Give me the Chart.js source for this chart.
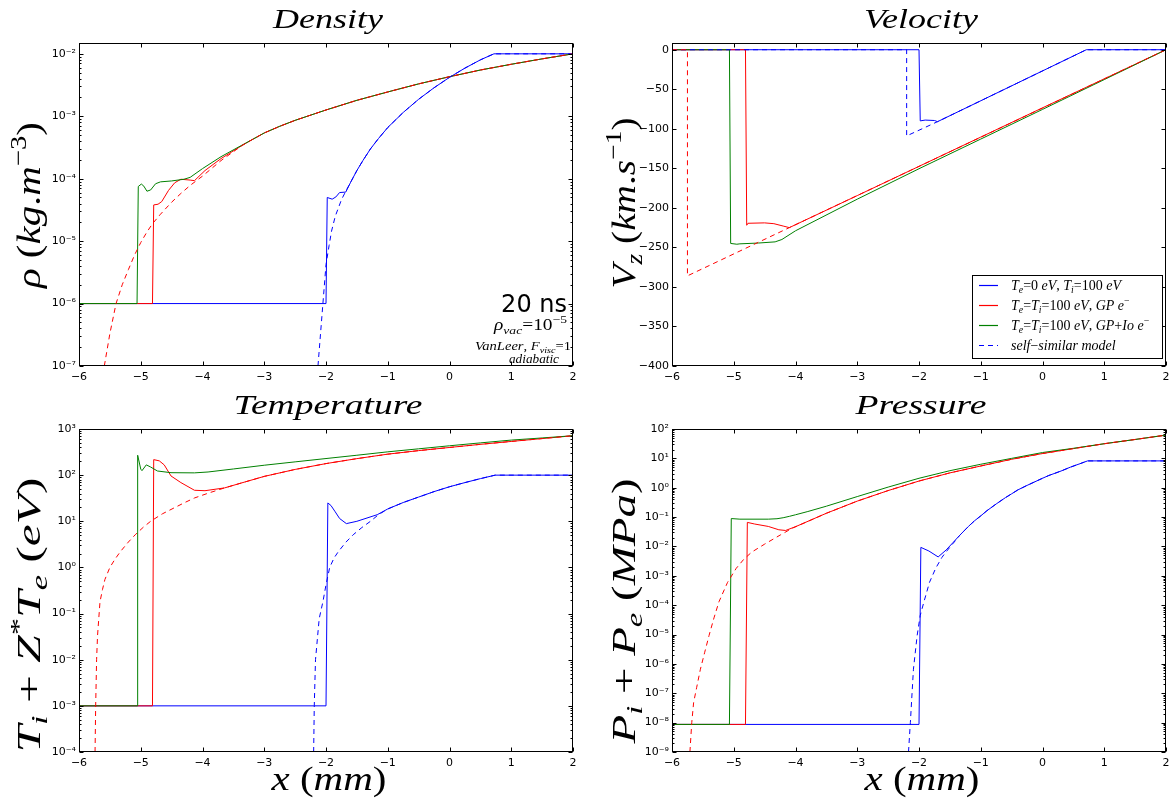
<!DOCTYPE html>
<html>
<head>
<meta charset="utf-8">
<script src="https://cdn.jsdelivr.net/npm/chart.js@4.4.1/dist/chart.umd.min.js"></script>
<style>
  body { margin: 0; background: #fff; }
  #wrap { position: relative; width: 1175px; height: 805px; }
  #wrap canvas { position: absolute; left: 0; top: 0; }
</style>
</head>
<body>
<div id="wrap">
  <canvas id="density" width="1175" height="805"></canvas>
  <canvas id="velocity" width="1175" height="805"></canvas>
  <canvas id="temperature" width="1175" height="805"></canvas>
  <canvas id="pressure" width="1175" height="805"></canvas>
</div>
<script>
// x positions in mm
const xTicks = [-6, -5, -4, -3, -2, -1, 0, 1, 2];
const velocityTicks = [0, -50, -100, -150, -200, -250, -300, -350, -400];

const seriesLabels = [
  'T_{e}=0 eV, T_{i}=100 eV',
  'T_{e}=T_{i}=100 eV, GP e^{−}',
  'T_{e}=T_{i}=100 eV, GP+Io e^{−}',
  'self−similar model'
];

// density (kg/m3)
const densityBlue = [[-6, 1e-6], [-2.0, 1e-6], [-1.98, 5e-5], [-1.9, 4.7e-5], [-1.84, 5.1e-5], [-1.78, 6e-5], [-1.68, 6.1e-5],
  [-1.6, 8.8e-5], [-1.5, 1.35e-4], [-1.4, 1.97e-4], [-1.28, 3.0e-4], [-1.15, 4.4e-4], [-1.0, 6.6e-4], [-0.75, 1.15e-3],
  [-0.5, 1.87e-3], [-0.25, 2.86e-3], [0, 4.2e-3], [0.25, 5.9e-3], [0.5, 8.0e-3], [0.72, 1.0e-2], [2, 1.0e-2]];
const densityBlueModel = [[-2.13, 1e-7], [-2.05, 1e-6], [-2.0, 4.2e-6], [-1.95, 8.5e-6], [-1.91, 1.45e-5], [-1.85, 2.5e-5],
  [-1.75, 4.6e-5], [-1.68, 6.3e-5], [-1.6, 8.8e-5], [-1.5, 1.35e-4], [-1.4, 1.97e-4], [-1.28, 3.0e-4], [-1.15, 4.4e-4],
  [-1.0, 6.6e-4], [-0.75, 1.15e-3], [-0.5, 1.87e-3], [-0.25, 2.86e-3], [0, 4.2e-3], [0.25, 5.9e-3], [0.5, 8.0e-3],
  [0.72, 1.0e-2], [2, 1.0e-2]];
const densityRed = [[-6, 1e-6], [-4.81, 1e-6], [-4.79, 3.8e-5], [-4.72, 3.9e-5], [-4.66, 4.3e-5], [-4.55, 6.5e-5], [-4.45, 8.6e-5],
  [-4.35, 9.8e-5], [-4.2, 9.5e-5], [-4.13, 9.3e-5], [-3.96, 1.35e-4], [-3.7, 2.1e-4], [-3.36, 3.4e-4], [-3.2, 4.2e-4],
  [-3, 5.4e-4], [-2.75, 6.9e-4], [-2.5, 8.6e-4], [-2, 1.26e-3], [-1.5, 1.8e-3], [-1, 2.45e-3], [-0.5, 3.3e-3], [0, 4.3e-3],
  [0.5, 5.5e-3], [1, 6.8e-3], [1.5, 8.3e-3], [2, 1.0e-2]];
const densityRedModel = [[-5.59, 1e-7], [-5.5, 3.3e-7], [-5.4, 1e-6], [-5.3, 2.0e-6], [-5.2, 3.5e-6], [-5.1, 6e-6],
  [-5.0, 9.5e-6], [-4.9, 1.4e-5], [-4.81, 1.9e-5], [-4.68, 2.7e-5], [-4.5, 4.2e-5], [-4.35, 5.8e-5], [-4.2, 7.8e-5],
  [-4.0, 1.1e-4], [-3.7, 1.95e-4], [-3.36, 3.4e-4], [-3.2, 4.2e-4], [-3, 5.4e-4], [-2.75, 6.9e-4], [-2.5, 8.6e-4],
  [-2, 1.26e-3], [-1.5, 1.8e-3], [-1, 2.45e-3], [-0.5, 3.3e-3], [0, 4.3e-3], [0.5, 5.5e-3], [1, 6.8e-3], [1.5, 8.3e-3],
  [2, 1.0e-2]];
const densityGreen = [[-6, 1e-6], [-5.06, 1e-6], [-5.04, 7.5e-5], [-4.99, 8.2e-5], [-4.95, 7.6e-5], [-4.9, 6.3e-5], [-4.84, 6.6e-5],
  [-4.76, 8.3e-5], [-4.68, 8.9e-5], [-4.5, 9.2e-5], [-4.3, 9.8e-5], [-4.2, 1.05e-4], [-4.0, 1.45e-4], [-3.7, 2.25e-4],
  [-3.36, 3.45e-4], [-3.2, 4.2e-4], [-3, 5.4e-4], [-2.75, 6.9e-4], [-2.5, 8.6e-4], [-2, 1.26e-3], [-1.5, 1.8e-3],
  [-1, 2.45e-3], [-0.5, 3.3e-3], [0, 4.3e-3], [0.5, 5.5e-3], [1, 6.8e-3], [1.5, 8.3e-3], [2, 1.0e-2]];

// velocity (km/s)
const velocityBlue = [[-6, 0], [-2.0, 0], [-1.98, -90], [-1.9, -89], [-1.75, -89.5], [-1.7, -91], [0.71, 0], [2, 0]];
const velocityBlueModel = [[-6, 0], [-2.2, 0], [-2.2, -109], [-1.7, -91], [0.71, 0], [2, 0]];
const velocityRed = [[-6, 0], [-4.81, 0], [-4.79, -222], [-4.77, -219.5], [-4.5, -219], [-4.35, -220], [-4.2, -223],
  [-4.1, -225], [-3, -184.5], [-2, -147.5], [-1, -110.5], [0, -73.5], [1, -36.8], [2, 0]];
const velocityRedModel = [[-6, 0], [-5.75, 0], [-5.75, -286], [-4.1, -225], [2, 0]];
const velocityGreen = [[-6, 0], [-5.07, 0], [-5.05, -245], [-4.95, -246], [-4.9, -245.5], [-4.6, -244.5], [-4.33, -243],
  [-4.22, -240], [-4.0, -229], [-3, -189], [-2, -150.5], [-1, -113], [0, -75.5], [1, -37.8], [2, 0]];

// temperature (eV)
const tempBlue = [[-6, 1e-3], [-2.0, 1e-3], [-1.97, 25], [-1.92, 22], [-1.85, 16], [-1.78, 11.5], [-1.67, 8.9], [-1.5, 10],
  [-1.17, 13.9], [-1, 18.5], [-0.75, 25.5], [-0.5, 33.5], [-0.25, 44], [0, 56], [0.25, 69], [0.5, 84], [0.74, 100], [2, 100]];
const tempBlueModel = [[-2.2, 1e-4], [-2.19, 1e-3], [-2.17, 0.01], [-2.11, 0.078], [-2.05, 0.18], [-2.0, 0.42], [-1.94, 1],
  [-1.87, 1.6], [-1.8, 2.2], [-1.68, 3.5], [-1.56, 5.1], [-1.42, 7.3], [-1.28, 10], [-1.15, 13.9], [-1, 18.5],
  [-0.75, 25.5], [-0.5, 33.5], [-0.25, 44], [0, 56], [0.25, 69], [0.5, 84], [0.74, 100], [2, 100]];
const tempRed = [[-6, 1e-3], [-4.81, 1e-3], [-4.79, 217], [-4.7, 204], [-4.62, 167], [-4.51, 96], [-4.35, 69], [-4.13, 47],
  [-3.96, 46], [-3.64, 53], [-3.3, 72], [-3, 94], [-2.5, 133], [-2, 178], [-1.5, 228], [-1, 285], [-0.5, 340], [0, 398],
  [0.5, 465], [1, 538], [1.5, 620], [2, 715]];
const tempRedModel = [[-5.74, 1e-4], [-5.73, 1e-3], [-5.715, 0.01], [-5.7, 0.033], [-5.66, 0.18], [-5.62, 0.33],
  [-5.58, 0.55], [-5.5, 1], [-5.42, 1.49], [-5.33, 2.2], [-5.2, 3.55], [-5.09, 5.1], [-4.96, 7.4], [-4.84, 10],
  [-4.65, 14.5], [-4.46, 19.5], [-4.3, 25], [-4.13, 32], [-3.9, 41], [-3.64, 53], [-3.3, 72], [-3, 94], [-2.5, 133],
  [-2, 178], [-1.5, 228], [-1, 285], [-0.5, 340], [0, 398], [0.5, 465], [1, 538], [1.5, 620], [2, 715]];
const tempGreen = [[-6, 1e-3], [-5.06, 1e-3], [-5.05, 270], [-5.0, 135], [-4.98, 125], [-4.91, 167], [-4.84, 150],
  [-4.73, 123], [-4.51, 113], [-4.13, 112], [-3.91, 117], [-3.5, 136], [-3, 164], [-2.5, 194], [-2, 229], [-1.5, 270],
  [-1, 320], [-0.5, 372], [0, 433], [0.5, 500], [1, 575], [1.5, 640], [2, 715]];

// pressure (MPa)
const pressBlue = [[-6, 8.7e-9], [-2.0, 8.7e-9], [-1.97, 9.3e-3], [-1.84, 7e-3], [-1.69, 4.4e-3], [-1.56, 7.6e-3],
  [-1.45, 0.0135], [-1.34, 0.024], [-1.2, 0.048], [-1.1, 0.075], [-1, 0.11], [-0.9, 0.165], [-0.75, 0.28], [-0.6, 0.46],
  [-0.5, 0.62], [-0.4, 0.84], [-0.25, 1.2], [0, 2.1], [0.1, 2.6], [0.2, 3.1], [0.3, 3.7], [0.45, 5.0], [0.6, 6.5],
  [0.73, 8.2], [2, 8.2]];
const pressBlueModel = [[-2.17, 1e-9], [-2.14, 1e-8], [-2.09, 6.6e-7], [-2.03, 9.3e-6], [-1.98, 4.5e-5], [-1.92, 1.3e-4],
  [-1.83, 6e-4], [-1.73, 1.8e-3], [-1.63, 4.2e-3], [-1.56, 6.6e-3], [-1.45, 0.0125], [-1.34, 0.024], [-1.2, 0.048],
  [-1.1, 0.075], [-1, 0.11], [-0.9, 0.165], [-0.75, 0.28], [-0.6, 0.46], [-0.5, 0.62], [-0.4, 0.84], [-0.25, 1.2],
  [0, 2.1], [0.1, 2.6], [0.2, 3.1], [0.3, 3.7], [0.45, 5.0], [0.6, 6.5], [0.73, 8.2], [2, 8.2]];
const pressRed = [[-6, 8.7e-9], [-4.81, 8.7e-9], [-4.78, 0.066], [-4.66, 0.058], [-4.44, 0.048], [-4.27, 0.037],
  [-4.16, 0.035], [-3.99, 0.048], [-3.5, 0.135], [-3, 0.35], [-2.5, 0.8], [-2, 1.69], [-1.5, 3.2], [-1, 5.5],
  [-0.5, 9.3], [0, 14.6], [0.5, 21.5], [1, 31.5], [1.5, 44], [2, 62]];
const pressRedModel = [[-5.71, 1e-9], [-5.68, 1e-8], [-5.65, 4.8e-8], [-5.6, 1.6e-7], [-5.54, 6.6e-7], [-5.47, 2.5e-6],
  [-5.4, 9.3e-6], [-5.32, 3.7e-5], [-5.24, 1.3e-4], [-5.1, 6e-4], [-4.96, 1.8e-3], [-4.84, 3.6e-3], [-4.71, 6.4e-3],
  [-4.5, 1.2e-2], [-4.24, 0.025], [-4.05, 0.042], [-3.5, 0.135], [-3, 0.35], [-2.5, 0.8], [-2, 1.69], [-1.5, 3.2],
  [-1, 5.5], [-0.5, 9.3], [0, 14.6], [0.5, 21.5], [1, 31.5], [1.5, 44], [2, 62]];
const pressGreen = [[-6, 8.7e-9], [-5.07, 8.7e-9], [-5.04, 0.089], [-4.9, 0.085], [-4.44, 0.085], [-4.3, 0.088],
  [-4.2, 0.095], [-4.1, 0.106], [-4.0, 0.12], [-3.8, 0.155], [-3.5, 0.235], [-3, 0.5], [-2.5, 1.05], [-2, 2.1],
  [-1.5, 3.8], [-1, 6.3], [-0.5, 10], [0, 15.8], [0.5, 22], [1, 31.5], [1.5, 44], [2, 62]];

const BLUE = '#0000ff', RED = '#ff0000', GREEN = '#008000';
const SERIF = '"Liberation Serif", serif';

const SUP = { '-': '⁻', '0': '⁰', '1': '¹', '2': '²', '3': '³', '4': '⁴', '5': '⁵', '6': '⁶', '7': '⁷', '8': '⁸', '9': '⁹' };
function powLabel(v) {
  const e = Math.round(Math.log10(v));
  return '10' + String(e).split('').map(c => SUP[c]).join('');
}
function decades(lo, hi) {
  const t = [];
  for (let e = lo; e <= hi; e++) t.push(Math.pow(10, e));
  return t;
}

// text with _{sub} and ^{sup}, letters italic like mathtext
function runs(str) {
  const out = [];
  const push = (t, lvl) => {
    (t.match(/[A-Za-zρ]+|[^A-Za-zρ]+/g) || []).forEach(seg => out.push({ t: seg, it: /[A-Za-zρ]/.test(seg), lvl }));
  };
  let buf = '', i = 0;
  while (i < str.length) {
    const c = str[i];
    if ((c === '_' || c === '^') && str[i + 1] === '{') {
      push(buf, 0); buf = '';
      const e = str.indexOf('}', i);
      push(str.slice(i + 2, e), c === '_' ? -1 : 1);
      i = e + 1;
    } else { buf += c; i++; }
  }
  push(buf, 0);
  return out;
}
// span: stretch horizontally to the width measured on the figure (Computer Modern is wider)
function drawRich(ctx, str, x, y, size, align, rot, span) {
  const rs = runs(str);
  const fontOf = r => (r.it ? 'italic ' : '') + (r.lvl ? size * 0.7 : size) + 'px ' + SERIF;
  let w = 0;
  rs.forEach(r => { ctx.font = fontOf(r); r.w = ctx.measureText(r.t).width; w += r.w; });
  const k = span ? span / w : 1;
  ctx.save();
  ctx.translate(x, y);
  if (rot) ctx.rotate(-Math.PI / 2);
  ctx.scale(k, 1);
  let cx = align === 'center' ? -w / 2 : align === 'right' ? -w : 0;
  ctx.textAlign = 'left';
  ctx.textBaseline = 'alphabetic';
  ctx.fillStyle = '#000';
  rs.forEach(r => {
    ctx.font = fontOf(r);
    ctx.fillText(r.t, cx, r.lvl === -1 ? size * 0.22 : r.lvl === 1 ? -size * 0.42 : 0);
    cx += r.w;
  });
  ctx.restore();
}

const decorPlugin = {
  id: 'decor',
  afterDatasetsDraw(chart, args, o) {
    const ctx = chart.ctx, a = chart.chartArea, xs = chart.scales.x, ys = chart.scales.y;
    const L = Math.round(a.left) + 0.5, R = Math.round(a.right) - 0.5;
    const T = Math.round(a.top) + 0.5, B = Math.round(a.bottom) - 0.5;
    ctx.save();
    ctx.strokeStyle = '#000';
    ctx.lineWidth = 1;
    ctx.beginPath();
    xTicks.forEach(v => {
      const p = Math.round(xs.getPixelForValue(v)) + 0.5;
      ctx.moveTo(p, B); ctx.lineTo(p, B - 4);
      ctx.moveTo(p, T); ctx.lineTo(p, T + 4);
    });
    const marks = [];
    if (ys.type === 'logarithmic') {
      const lo = Math.floor(Math.log10(ys.min)), hi = Math.ceil(Math.log10(ys.max));
      for (let e = lo; e <= hi; e++) {
        for (let m = 1; m <= 9; m++) {
          const v = m * Math.pow(10, e);
          if (v >= ys.min * 0.999 && v <= ys.max * 1.001) marks.push([v, m === 1 ? 4 : 2]);
        }
      }
    } else {
      velocityTicks.forEach(v => marks.push([v, 4]));
    }
    marks.forEach(([v, len]) => {
      const p = Math.round(ys.getPixelForValue(v)) + 0.5;
      ctx.moveTo(L, p); ctx.lineTo(L + len, p);
      ctx.moveTo(R, p); ctx.lineTo(R - len, p);
    });
    ctx.stroke();
    ctx.strokeRect(L, T, R - L, B - T);
    ctx.restore();
  },
  afterDraw(chart, args, o) {
    const ctx = chart.ctx, a = chart.chartArea;
    const mid = (a.left + a.right) / 2;
    drawRich(ctx, o.title, mid + 2, a.top - 15, 28, 'center', false, o.titleSpan);
    drawRich(ctx, o.ylabel, o.ylabelX, o.ylabelY, 34, 'center', true, o.ylabelSpan);
    if (o.xlabel) drawRich(ctx, o.xlabel, mid + 3, 790, 34, 'center', false, 115);
    if (o.notes) {
      ctx.save();
      ctx.fillStyle = '#000';
      ctx.font = '24px "DejaVu Sans"';
      ctx.textAlign = 'right';
      ctx.fillText('20 ns', a.right - 6, 312);
      ctx.restore();
      drawRich(ctx, 'ρ_{vac}=10^{−5}', a.right - 6, 330, 16, 'right', false, 73);
      drawRich(ctx, 'VanLeer, F_{visc}=1', a.right - 2, 350, 12, 'right', false, 96);
      drawRich(ctx, 'adiabatic', a.right - 39, 363, 12, 'center', false, 50);
    }
    if (o.legend) {
      const g = o.legend;
      ctx.save();
      ctx.fillStyle = '#fff';
      ctx.fillRect(g.x, g.y, g.w, g.h);
      ctx.strokeStyle = '#000';
      ctx.lineWidth = 1;
      ctx.strokeRect(g.x + 0.5, g.y + 0.5, g.w, g.h);
      g.rows.forEach((r, i) => {
        const cy = Math.round(g.y + 10 + i * 20) + 0.5;
        ctx.save();
        ctx.strokeStyle = r.color;
        ctx.lineWidth = 1.2;
        ctx.setLineDash(r.dash || []);
        ctx.beginPath();
        ctx.moveTo(g.x + 7, cy); ctx.lineTo(g.x + 26, cy);
        ctx.stroke();
        ctx.restore();
        drawRich(ctx, r.label, g.x + 39, cy + 4.5, 14, 'left');
      });
      ctx.restore();
    }
  }
};
Chart.register(decorPlugin);

const YW = 60, XH = 26;
const tickFont = { family: '"DejaVu Sans"', size: 11 };

function makePanel(id, area, yScale, sets, deco) {
  new Chart(document.getElementById(id), {
    type: 'line',
    data: {
      datasets: sets.map(s => ({
        data: s.pts.map(p => ({ x: p[0], y: p[1] })),
        borderColor: s.color,
        borderWidth: 1,
        borderDash: s.dash || [],
        pointRadius: 0,
        fill: false,
        tension: 0,
        order: s.order
      }))
    },
    options: {
      responsive: false,
      animation: false,
      events: [],
      layout: { padding: { left: area.l - YW, right: 1175 - area.r, top: area.t, bottom: 805 - area.b - XH } },
      plugins: { legend: { display: false }, tooltip: { enabled: false }, decor: deco },
      scales: {
        x: {
          type: 'linear', min: -6, max: 2,
          afterBuildTicks: s => { s.ticks = xTicks.map(v => ({ value: v })); },
          afterFit: s => { s.height = XH; },
          grid: { display: false, drawTicks: false },
          border: { display: false },
          ticks: { font: tickFont, color: '#000', padding: 5, maxRotation: 0, autoSkip: false,
            callback: v => v < 0 ? '\u2212' + Math.abs(v) : String(v) }
        },
        y: Object.assign({
          afterFit: s => { s.width = YW; },
          grid: { display: false, drawTicks: false },
          border: { display: false }
        }, yScale)
      }
    }
  });
}

function logAxis(lo, hi, max) {
  return {
    type: 'logarithmic', min: Math.pow(10, lo), max: max,
    afterBuildTicks: s => { s.ticks = decades(lo, hi).map(v => ({ value: v })); },
    ticks: { font: tickFont, color: '#000', padding: 3, autoSkip: false, callback: v => powLabel(v) }
  };
}

const topRow = { t: 43, b: 366 }, botRow = { t: 429, b: 752 };
const leftCol = { l: 79, r: 573 }, rightCol = { l: 672, r: 1166 };

makePanel('density', Object.assign({}, leftCol, topRow), logAxis(-7, -2, 0.0149), [
  { pts: densityRedModel, color: RED, dash: [5, 4], order: 0 },
  { pts: densityBlueModel, color: BLUE, dash: [5, 4], order: 0 },
  { pts: densityGreen, color: GREEN, order: 1 },
  { pts: densityRed, color: RED, order: 2 },
  { pts: densityBlue, color: BLUE, order: 3 }
], { title: 'Density', titleSpan: 110, ylabel: 'ρ (kg.m^{−3})', ylabelSpan: 166, ylabelX: 40, ylabelY: 205, notes: true });

makePanel('velocity', Object.assign({}, rightCol, topRow), {
  type: 'linear', min: -400, max: 8.5,
  afterBuildTicks: s => { s.ticks = velocityTicks.map(v => ({ value: v })); },
  ticks: { font: tickFont, color: '#000', padding: 3, autoSkip: false,
    callback: v => v < 0 ? '\u2212' + Math.abs(v) : String(v) }
}, [
  { pts: velocityRedModel, color: RED, dash: [5, 4], order: 0 },
  { pts: velocityBlueModel, color: BLUE, dash: [5, 4], order: 0 },
  { pts: velocityGreen, color: GREEN, order: 1 },
  { pts: velocityRed, color: RED, order: 2 },
  { pts: velocityBlue, color: BLUE, order: 3 }
], {
  title: 'Velocity', titleSpan: 114, ylabel: 'V_{z} (km.s^{−1})', ylabelSpan: 171, ylabelX: 635, ylabelY: 203,
  legend: { x: 972, y: 275, w: 190, h: 83, rows: [
    { label: seriesLabels[0], color: BLUE },
    { label: seriesLabels[1], color: RED },
    { label: seriesLabels[2], color: GREEN },
    { label: seriesLabels[3], color: BLUE, dash: [5, 4] }
  ] }
});

makePanel('temperature', Object.assign({}, leftCol, botRow), logAxis(-4, 3, 1000), [
  { pts: tempRedModel, color: RED, dash: [5, 4], order: 0 },
  { pts: tempBlueModel, color: BLUE, dash: [5, 4], order: 0 },
  { pts: tempGreen, color: GREEN, order: 1 },
  { pts: tempRed, color: RED, order: 2 },
  { pts: tempBlue, color: BLUE, order: 3 }
], { title: 'Temperature', titleSpan: 189, ylabel: 'T_{i} + Z^{*}T_{e} (eV)', ylabelSpan: 275, ylabelX: 40, ylabelY: 615, xlabel: 'x (mm)' });

makePanel('pressure', Object.assign({}, rightCol, botRow), logAxis(-9, 2, 100), [
  { pts: pressRedModel, color: RED, dash: [5, 4], order: 0 },
  { pts: pressBlueModel, color: BLUE, dash: [5, 4], order: 0 },
  { pts: pressGreen, color: GREEN, order: 1 },
  { pts: pressRed, color: RED, order: 2 },
  { pts: pressBlue, color: BLUE, order: 3 }
], { title: 'Pressure', titleSpan: 131, ylabel: 'P_{i} + P_{e} (MPa)', ylabelSpan: 265, ylabelX: 635, ylabelY: 611, xlabel: 'x (mm)' });
</script>
</body>
</html>
